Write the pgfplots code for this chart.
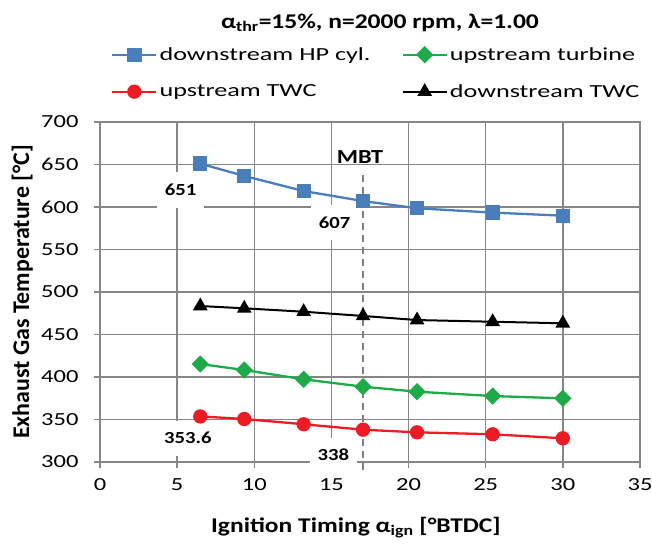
\documentclass[border=0pt]{standalone}
\usepackage{fontspec}
\setmainfont{Carlito}[FakeStretch=1.22]
\newfontfamily\ylabfont{Carlito}
\newfontfamily\legfont{Carlito}[FakeStretch=1.42]
\newfontfamily\tickfont{Carlito}[FakeStretch=1.33]
\usepackage{pgfplots}
\pgfplotsset{compat=1.18}
\definecolor{cblue}{RGB}{74,126,187}
\definecolor{cgreen}{RGB}{30,170,72}
\definecolor{cred}{RGB}{237,28,36}
\definecolor{cgrid}{RGB}{134,134,134}
\definecolor{cdash}{RGB}{128,128,128}
\begin{document}
\begin{tikzpicture}
\path[use as bounding box] (-100bp,-87bp) rectangle (552bp,462bp);
\begin{axis}[
  at={(0,0)}, anchor=south west,
  scale only axis, width=540bp, height=340bp,
  xmin=0, xmax=35, ymin=300, ymax=700,
  xtick distance=5, ytick distance=50,
  grid=major,
  major grid style={cgrid, line width=1.3bp},
  axis line style={cgrid, line width=1.3bp},
  tick style={cgrid, line width=1.3bp},
  tick align=outside, xtick pos=bottom, ytick pos=left,
  major tick length=6bp,
  /pgf/number format/assume math mode=true,
  ticklabel style={font=\tickfont\fontsize{18.5}{22}\selectfont, text=black},
  xticklabel style={yshift=-7bp},
  yticklabel style={xshift=-12bp},
  clip=false,
  title={α\textsubscript{thr}=15\%, n=2000 rpm, λ=1.00},
  title style={at={(axis description cs:0.5185,1.274)}, anchor=center, font=\bfseries\fontsize{21}{25}\selectfont},
  xlabel={Ignition Timing α\textsubscript{ign} [°BTDC]},
  xlabel style={at={(axis description cs:0.474,-0.194)}, anchor=center, font=\bfseries\fontsize{21}{25}\selectfont},
  ylabel={Exhaust Gas Temperature [°C]},
  ylabel style={at={(axis description cs:-0.144,0.5)}, anchor=center, font=\ylabfont\bfseries\fontsize{24}{28}\selectfont},
  legend columns=2,
  legend cell align=left,
  legend style={at={(axis description cs:0.0204,1.253)}, anchor=north west, draw=none, fill=none, inner sep=0pt,
    font=\legfont\fontsize{18.5}{22}\selectfont,
    nodes={inner xsep=2bp, inner ysep=0bp, minimum height=37bp},
    /tikz/every even column/.append style={column sep=29bp}},
  legend image code/.code={\draw[mark repeat=2,mark phase=2,#1] plot coordinates {(0bp,0bp) (22bp,0bp) (44bp,0bp)};},
]
\addplot[cblue, line width=2.3bp, mark=square*, mark size=6bp, mark options={solid}]
  coordinates {(6.5,651) (9.35,636.5) (13.2,618.8) (17.05,607) (20.55,598.5) (25.45,593.4) (30,589.8)};
\addlegendentry{downstream HP cyl.}
\addplot[cgreen, line width=2.3bp, mark=square*, mark size=5bp, mark options={solid, rotate=45}]
  coordinates {(6.5,415.3) (9.35,408.2) (13.2,397.3) (17.05,388.6) (20.55,382.7) (25.45,377.6) (30,374.9)};
\addlegendentry{upstream turbine}
\addplot[cred, line width=2.3bp, mark=*, mark size=6bp, mark options={solid}]
  coordinates {(6.5,353.6) (9.35,350.6) (13.2,344.4) (17.05,338) (20.55,334.9) (25.45,332.6) (30,327.9)};
\addlegendentry{upstream TWC}
\addplot[black, line width=2bp, mark=triangle*, mark size=6.5bp, mark options={solid}]
  coordinates {(6.5,483.5) (9.35,480.8) (13.2,476.8) (17.05,471.8) (20.55,467) (25.45,465) (30,463.2)};
\addlegendentry{downstream TWC}
\node[fill=white, font=\bfseries\fontsize{17}{20}\selectfont, minimum height=35bp, inner xsep=8bp] at (axis cs:5.22,620) {651};
\node[fill=white, font=\bfseries\fontsize{17}{20}\selectfont, minimum height=35bp, inner xsep=8bp] at (axis cs:15.2,581.8) {607};
\node[fill=white, font=\bfseries\fontsize{17}{20}\selectfont, minimum height=35bp, inner xsep=8bp] at (axis cs:5.70,328.2) {353.6};
\node[fill=white, font=\bfseries\fontsize{17}{20}\selectfont, minimum height=35bp, inner xsep=8bp] at (axis cs:15.13,308) {338};
\addplot[cdash, line width=2bp, dash pattern=on 7bp off 5bp, forget plot] coordinates {(17.05,291) (17.05,643.5)};
\node[font=\bfseries\fontsize{20}{24}\selectfont] at (axis cs:16.85,658.2) {MBT};
\end{axis}
\end{tikzpicture}
\end{document}
